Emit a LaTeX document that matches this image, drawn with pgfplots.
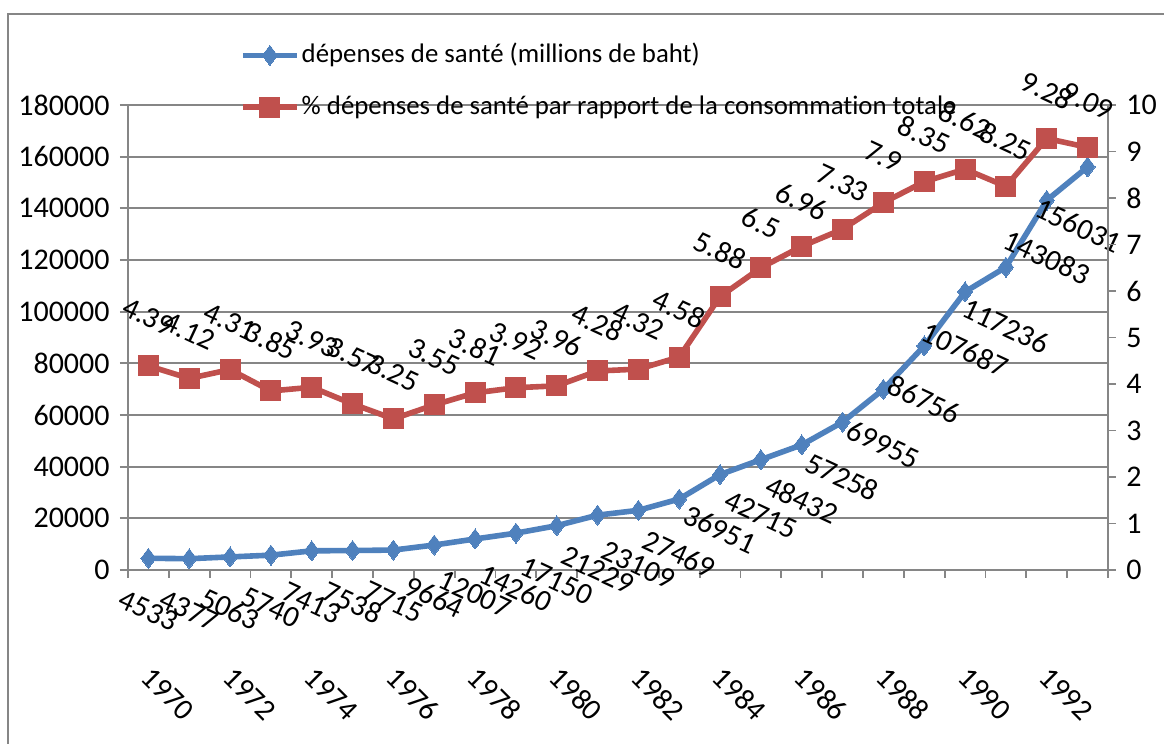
\documentclass[border=0pt]{standalone}
\usepackage{pgfplots}
\usepackage{pgfplotstable}
\pgfplotsset{compat=1.18}
\usepackage{fontspec}
\setmainfont{Carlito}[Ligatures=NoCommon]
\definecolor{exblue}{HTML}{4F81BD}
\definecolor{exred}{HTML}{C0504D}
\definecolor{exgray}{HTML}{868686}

\pgfplotstableread{
x y lab dx dy
0 4533 4533 0 -26
1 4377 4377 0 -26
2 5063 5063 0 -26
3 5740 5740 0 -26
4 7413 7413 0 -26
5 7538 7538 0 -26
6 7715 7715 0 -26
7 9664 9664 0 -26
8 12007 12007 0 -27.5
9 14260 14260 0 -27.5
10 17150 17150 0 -27.5
11 21229 21229 0 -27.5
12 23109 23109 0 -27.5
13 27469 27469 0 -27.5
14 36951 36951 0 -27.5
15 42715 42715 0 -27.5
16 48432 48432 0 -27.5
17 57258 57258 0 -27.5
18 69955 69955 0 -27.5
19 86756 86756 0 -27
20 107687 107687 0 -29
21 117236 117236 0 -29.5
22 143083 143083 0 -28.5
23 156031 156031 -4.5 -29.5
}\depenses

\pgfplotstableread{
x y lab dx dy
0 4.39 4.39 0 24.5
1 4.12 4.12 0 23.5
2 4.31 4.31 0 24
3 3.85 3.85 0 25
4 3.93 3.93 0 24
5 3.57 3.57 0 24
6 3.25 3.25 0 23
7 3.55 3.55 0 24
8 3.81 3.81 0 23
9 3.92 3.92 0 23.5
10 3.96 3.96 0 24
11 4.28 4.28 0 24
12 4.32 4.32 0 24
13 4.58 4.58 0 24
14 5.88 5.88 0 23
15 6.5 6.5 0 22.5
16 6.96 6.96 0 22.5
17 7.33 7.33 0 23
18 7.9 7.9 0 23
19 8.35 8.35 0 23.5
20 8.62 8.62 0 24.5
21 8.25 8.25 0 22.5
22 9.28 9.28 0 24
23 9.09 9.09 0 23
}\pourcent

\pgfplotsset{
  bluestyle/.style={color=exblue, line width=2.8pt, mark=diamond*, mark size=5pt, mark options={solid, line width=0pt}},
  redstyle/.style={color=exred, line width=2.8pt, mark=square*, mark size=5pt, mark options={solid, line width=0pt}},
  common/.style={
    at={(64pt,87pt)}, anchor=south west,
    scale only axis, width=490pt, height=232.5pt,
    xmin=-0.5, xmax=23.5,
    clip=false,
    axis line style={exgray, line width=0.9pt},
    tick style={exgray, line width=0.9pt},
    tick align=outside,
    major tick length=4pt,
    /pgf/number format/assume math mode=true,
    /pgf/number format/fixed,
    /pgf/number format/precision=0,
    /pgf/number format/1000 sep={},
    scaled y ticks=false,
    nodes near coords={\pgfplotspointmeta},
    point meta=explicit symbolic,
    nodes near coords align={center},
    visualization depends on={\thisrow{dx} \as \labdx},
    visualization depends on={\thisrow{dy} \as \labdy},
    legend image code/.code={\draw[mark repeat=2,mark phase=2] plot coordinates {(0pt,0pt) (13.5pt,0pt) (27pt,0pt)};},
  },
}

\begin{document}
\fontsize{15pt}{18pt}\selectfont
\begin{tikzpicture}[font=\fontsize{15pt}{18pt}\selectfont]
\useasboundingbox (0,0) rectangle (582pt,372pt);
\draw[exgray, line width=1pt] (4pt,-1pt) -- (4pt,365pt) -- (583pt,365pt);

\begin{axis}[
  common,
  ymin=0, ymax=180000,
  ytick={0,20000,...,180000},
  axis y line*=left, axis x line*=bottom,
  ymajorgrids,
  grid style={exgray, line width=0.9pt},
  xtick={-0.5,0.5,...,23.5},
  xticklabels={1970,,1972,,1974,,1976,,1978,,1980,,1982,,1984,,1986,,1988,,1990,,1992,,},
  xticklabel style={anchor=center, xshift=20pt, yshift=-58pt, rotate=-45},
]
\addplot[bluestyle, every node near coord/.append style={color=black, anchor=center, xshift=\labdx pt, yshift=\labdy pt, rotate=-25, font=\fontsize{15pt}{18pt}\selectfont}]
  table[x=x, y=y, meta=lab] {\depenses};
\end{axis}

\begin{axis}[
  common,
  ymin=0, ymax=10,
  ytick={0,1,...,10},
  axis y line*=right, axis x line=none,
  legend style={draw=none, fill=none, at={(axis description cs:0.114,1)}, anchor=north west, yshift=33pt,
    inner sep=0pt, row sep=10pt, legend cell align=left, font=\fontsize{13.4pt}{16pt}\selectfont,
    nodes={inner xsep=1pt}},
]
\addlegendimage{bluestyle}
\addlegendentry{dépenses de santé (millions de baht)}
\addplot[redstyle, every node near coord/.append style={color=black, anchor=center, xshift=\labdx pt, yshift=\labdy pt, rotate=-25, font=\fontsize{15pt}{18pt}\selectfont}]
  table[x=x, y=y, meta=lab] {\pourcent};
\addlegendentry{\% dépenses de santé par rapport de la consommation totale}
\end{axis}
\end{tikzpicture}
\end{document}
